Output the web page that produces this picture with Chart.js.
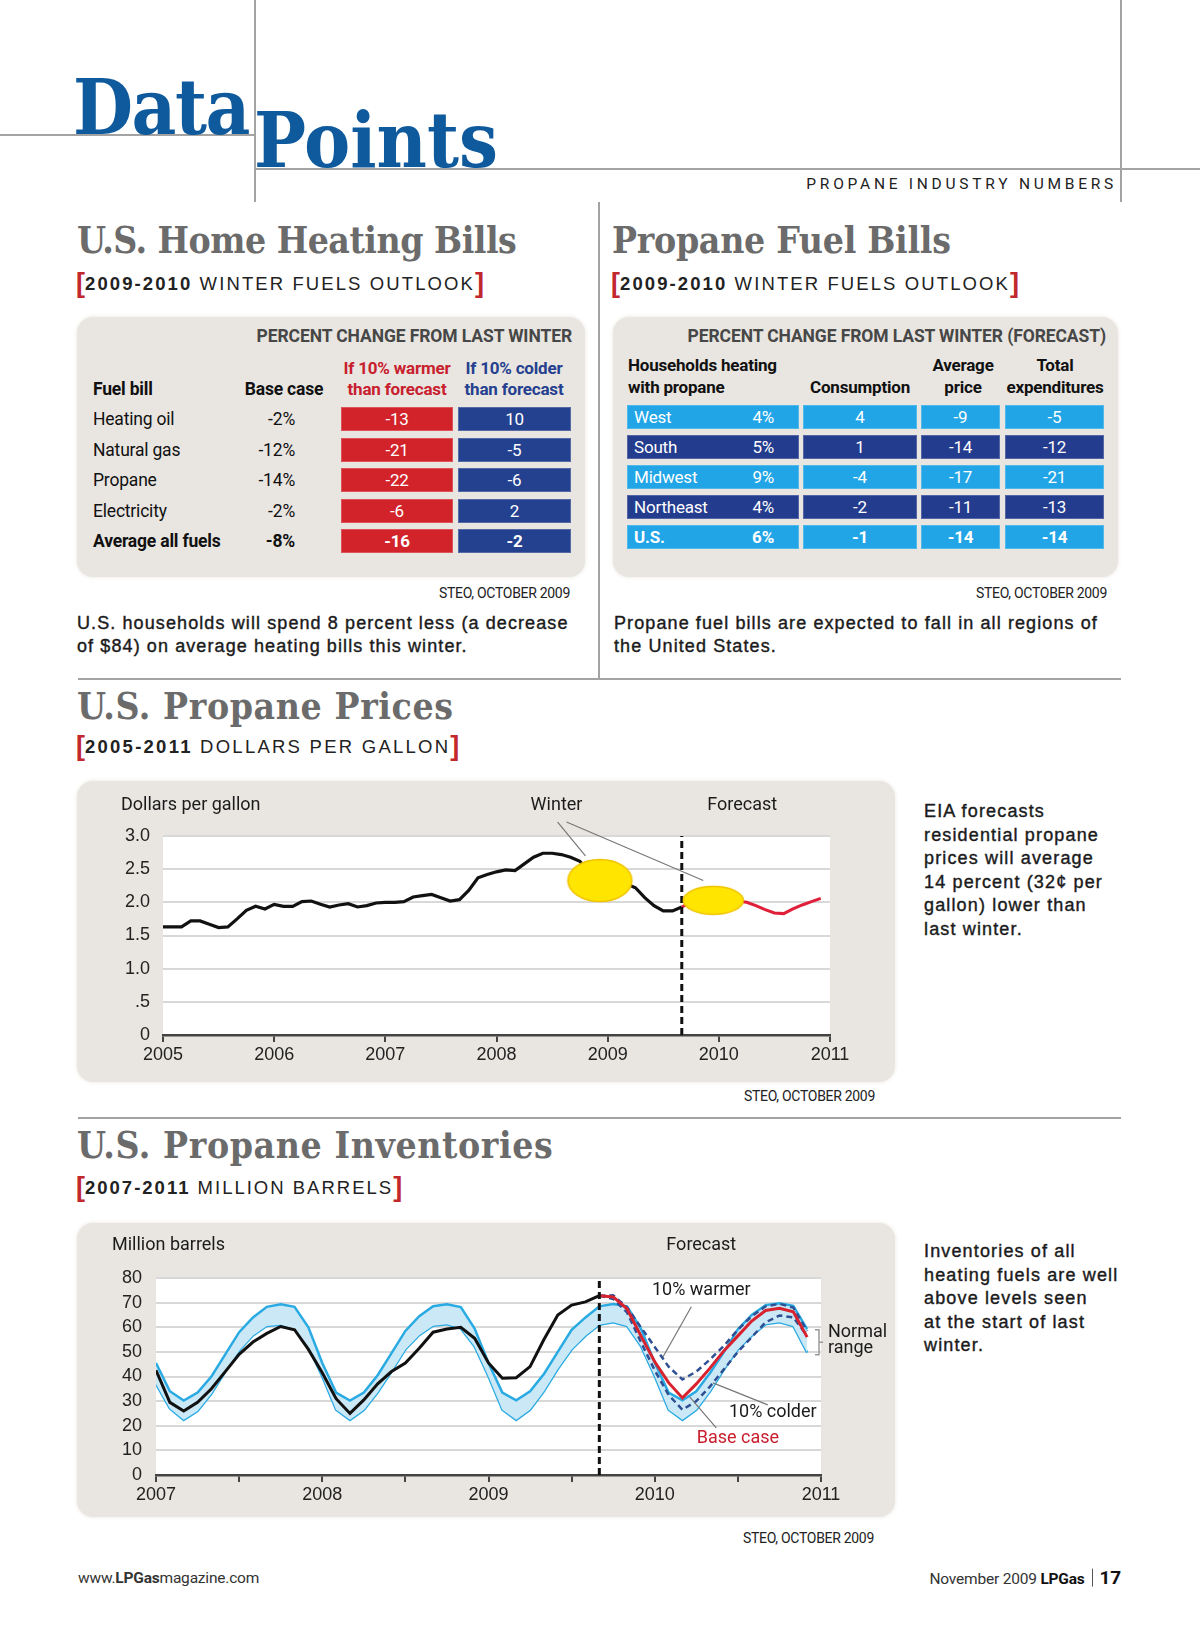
<!DOCTYPE html>
<html>
<head>
<meta charset="utf-8">
<title>Data Points - Propane Industry Numbers</title>
<script src="https://cdn.jsdelivr.net/npm/chart.js@4.4.0/dist/chart.umd.min.js"></script>
<style>
  body { margin: 0; background: #fff; }
  #page { position: relative; width: 1200px; height: 1626px; overflow: hidden; font-family: "Liberation Sans", Arial, sans-serif; color: #1b1b1b; }
  .t { position: absolute; white-space: nowrap; line-height: 1.2; transform: translateY(-50%); }
  .t.c { transform: translate(-50%, -50%); text-align: center; }
  .rule { position: absolute; background: #a3a3a3; }
  .slab { font-family: "DejaVu Serif", serif; font-weight: bold; font-stretch: condensed; }
  .narrow { font-family: Roboto, "Liberation Sans", sans-serif; letter-spacing: -0.2px; }
  .title { font-size: 37px; color: #6b6b6b; letter-spacing: -0.3px; }
  .sub { font-size: 18.5px; letter-spacing: 2.1px; color: #222; }
  .br { color: #c1272d; font-weight: bold; font-size: 27px; letter-spacing: 0; position: relative; top: 2px; }
  .src { font-size: 14px; color: #222; letter-spacing: -0.3px; }
  .note { position: absolute; font-size: 18px; line-height: 22.5px; letter-spacing: 1.1px; -webkit-text-stroke: .4px #1b1b1b; }
  .side { position: absolute; font-size: 18px; line-height: 23.6px; letter-spacing: 1.15px; -webkit-text-stroke: .4px #1b1b1b; }
  .panel { position: absolute; background: #e9e6e1; border-radius: 16px; box-shadow: 0 0 4px #e9e6e1; }
  .head { font-size: 17.5px; font-weight: bold; color: #474747; letter-spacing: -0.1px; }
  .colh { font-size: 17px; font-weight: bold; }
  .tbl { font-size: 17.5px; color: #111; }
  .bold { font-weight: bold; }
  .cell { position: absolute; height: 24px; line-height: 24px; color: #fff; font-size: 17px; box-shadow: inset 0 0 0 1px rgba(255,255,255,.22); }
  .foot { font-size: 15.5px; color: #333; }
  .bar { display: inline-block; width: 1px; height: 18px; background: #555; vertical-align: -3px; margin: 0 7px; }
  canvas { position: absolute; }
</style>
</head>
<body>
<div id="page">
  <!-- header rules -->
  <div class="rule" style="left:254px;top:0;width:2px;height:202px"></div>
  <div class="rule" style="left:1120px;top:0;width:2px;height:202px"></div>
  <div class="rule" style="left:0;top:134px;width:255px;height:2px"></div>
  <div class="rule" style="left:255px;top:168px;width:945px;height:2px"></div>
  <div class="rule" style="left:598px;top:202px;width:2px;height:476px"></div>
  <div class="rule" style="left:78px;top:678px;width:1043px;height:2px"></div>
  <div class="rule" style="left:78px;top:1117px;width:1043px;height:2px"></div>

  <canvas id="priceChart" width="818" height="301" style="left:77px;top:781px"></canvas>
  <canvas id="invChart" width="818" height="294" style="left:77px;top:1223px"></canvas>
</div>

<script>
// ---- data ----
const fuelNames = ['Heating oil', 'Natural gas', 'Propane', 'Electricity', 'Average all fuels'];
const fuelBase = ['-2%', '-12%', '-14%', '-2%', '-8%'];
const fuelWarmer = [-13, -21, -22, -6, -16];
const fuelColder = [10, -5, -6, 2, -2];

const regions = ['West', 'South', 'Midwest', 'Northeast', 'U.S.'];
const regionShare = ['4%', '5%', '9%', '4%', '6%'];
const regionConsumption = [4, 1, -4, -2, -1];
const regionPrice = [-9, -14, -17, -11, -14];
const regionTotal = [-5, -12, -21, -13, -14];

// propane price, $/gal, monthly from Jan 2005
const priceStart = 2005;
const priceActual = [
  1.63, 1.63, 1.63, 1.72, 1.72, 1.67, 1.62, 1.63, 1.75, 1.88, 1.94, 1.90,
  1.97, 1.94, 1.94, 2.01, 2.02, 1.97, 1.93, 1.96, 1.98, 1.93, 1.95, 1.99,
  2.00, 2.00, 2.01, 2.08, 2.10, 2.12, 2.07, 2.02, 2.04, 2.18, 2.37, 2.42,
  2.46, 2.49, 2.48, 2.58, 2.68, 2.74, 2.74, 2.72, 2.68, 2.62, 2.45, 2.35,
  2.33, 2.30, 2.28, 2.22, 2.07, 1.95, 1.87, 1.87, 1.93
];
// forecast, monthly from Sep 2009
const priceForecastStart = 2009 + 8 / 12;
const priceForecast = [1.93, 2.00, 2.03, 2.05, 2.05, 2.04, 2.02, 2.00, 1.95, 1.89, 1.84, 1.83, 1.90, 1.96, 2.01, 2.06];
const priceYears = ['2005', '2006', '2007', '2008', '2009', '2010', '2011'];
const priceTickLabels = ['0', '.5', '1.0', '1.5', '2.0', '2.5', '3.0'];
// winter highlights (year, $/gal)
const winterSpots = [{ x: 2008.93, y: 2.33 }, { x: 2009.95, y: 2.03 }];

// inventories, million barrels, monthly from Jan 2007
const invStart = 2007;
const invActual = [
  42.5, 29.5, 26.0, 29.5, 35.0, 42.0, 49.0, 54.0, 57.5, 60.3, 59.0, 51.0,
  41.5, 31.0, 25.0, 30.5, 37.0, 42.0, 45.5, 51.5, 58.0, 59.3, 60.0, 55.5,
  45.5, 39.3, 39.5, 44.0, 55.0, 65.0, 69.0, 70.3, 72.8
];
const normalHigh = [
  45.5, 34.0, 30.2, 33.5, 40.0, 49.0, 58.0, 64.0, 68.3, 69.3, 68.3, 60.0,
  45.5, 33.5, 30.2, 33.5, 40.5, 49.5, 58.5, 64.5, 68.5, 69.3, 68.2, 59.5,
  45.5, 33.5, 30.3, 34.0, 41.0, 50.0, 59.0, 64.0, 68.5, 69.4, 68.5, 59.5,
  45.6, 33.5, 30.3, 34.0, 41.5, 50.0, 59.2, 65.0, 69.0, 69.7, 68.7, 59.2
];
const normalLow = [
  37.0, 27.0, 22.4, 26.0, 33.0, 42.0, 50.5, 56.7, 60.5, 61.0, 59.3, 52.0,
  40.0, 26.5, 22.4, 26.4, 33.5, 42.0, 51.0, 56.8, 60.6, 61.2, 59.5, 52.2,
  40.0, 26.5, 22.4, 26.5, 34.0, 43.0, 51.0, 56.5, 61.0, 62.0, 60.5, 52.4,
  40.1, 26.5, 22.4, 26.5, 34.0, 42.9, 51.0, 56.5, 61.2, 62.0, 60.5, 49.7
];
// forecasts, monthly from Sep 2009
const invForecastStart = 2009 + 8 / 12;
const invBase = [72.8, 72.3, 67.5, 56.5, 46.0, 37.5, 31.3, 37.0, 43.5, 50.5, 56.5, 62.5, 66.8, 67.7, 66.3, 56.0];
const invWarmer = [72.8, 73.0, 68.0, 60.0, 52.0, 44.0, 38.8, 42.0, 47.0, 52.5, 59.0, 64.5, 68.5, 69.5, 68.0, 58.5];
const invColder = [72.8, 71.5, 66.0, 54.0, 42.5, 32.5, 26.5, 30.0, 36.0, 43.0, 50.0, 56.0, 62.0, 64.8, 64.0, 56.5];
const invYears = ['2007', '2008', '2009', '2010', '2011'];
const invTickLabels = ['0', '10', '20', '30', '40', '50', '60', '70', '80'];

// ---- page text ----
const page = document.getElementById('page');
const NARROW = 'Roboto, "Liberation Sans", sans-serif';
const SANS = '"Liberation Sans", Arial, sans-serif';

function put(html, cls, anchor, x, y, css) {
  const d = document.createElement('div');
  d.className = 't ' + cls + (anchor === 'c' ? ' c' : '');
  d.innerHTML = html;
  d.style.top = y + 'px';
  if (anchor === 'r') d.style.right = (1200 - x) + 'px';
  else d.style.left = x + 'px';
  if (css) d.style.cssText += css;
  page.appendChild(d);
  return d;
}

function block(cls, x, y, w, h, css) {
  const d = document.createElement('div');
  d.className = cls;
  d.style.cssText = `left:${x}px;top:${y}px;width:${w}px;height:${h}px;` + (css || '');
  page.insertBefore(d, page.firstChild);
  return d;
}

function cell(text, x, y, w, color, extra) {
  const d = document.createElement('div');
  d.className = 'cell narrow' + (extra || '');
  d.style.cssText = `left:${x}px;top:${y - 12}px;width:${w}px;background:${color};text-align:center;`;
  d.textContent = text;
  page.appendChild(d);
  return d;
}

// masthead
put('Data', 'slab', 'l', 73, 107, 'font-size:77px;color:#0f5a9c;letter-spacing:-1.5px');
put('Points', 'slab', 'l', 254, 140, 'font-size:77px;color:#0f5a9c;letter-spacing:0px');
put('PROPANE INDUSTRY NUMBERS', 'narrow', 'r', 1117, 184, 'font-size:15.5px;letter-spacing:3.75px;color:#222');

// section titles
put('U.S. Home Heating Bills', 'slab title', 'l', 77, 240, 'letter-spacing:-0.5px');
put('Propane Fuel Bills', 'slab title', 'l', 612, 240);
put('<span class="br">[</span><b>2009-2010</b> WINTER FUELS OUTLOOK<span class="br">]</span>', 'sub', 'l', 76, 281);
put('<span class="br">[</span><b>2009-2010</b> WINTER FUELS OUTLOOK<span class="br">]</span>', 'sub', 'l', 611, 281);
put('U.S. Propane Prices', 'slab title', 'l', 77, 706, 'letter-spacing:0.6px');
put('<span class="br">[</span><b>2005-2011</b> DOLLARS PER GALLON<span class="br">]</span>', 'sub', 'l', 76, 744, 'letter-spacing:2.25px');
put('U.S. Propane Inventories', 'slab title', 'l', 77, 1145, 'letter-spacing:0.6px');
put('<span class="br">[</span><b>2007-2011</b> MILLION BARRELS<span class="br">]</span>', 'sub', 'l', 76, 1185, 'letter-spacing:2.0px');

// panels
block('panel', 77, 317, 508, 260);
block('panel', 613, 317, 505, 260);
block('panel', 77, 781, 818, 301);
block('panel', 77, 1223, 818, 294);

// left table
put('PERCENT CHANGE FROM LAST WINTER', 'narrow head', 'r', 572, 336);
put('If 10% warmer<br>than forecast', 'narrow colh', 'c', 397, 379, 'color:#c8202e;line-height:21px');
put('If 10% colder<br>than forecast', 'narrow colh', 'c', 514, 379, 'color:#25408f;line-height:21px');
put('Fuel bill', 'narrow colh', 'l', 93, 389, 'color:#111;font-size:17.5px');
put('Base case', 'narrow colh', 'c', 284, 389, 'color:#111;font-size:17.5px');
const leftRowY = [419, 450, 480, 511, 541];
fuelNames.forEach((name, i) => {
  const b = i === fuelNames.length - 1 ? ' bold' : '';
  put(name, 'narrow tbl' + b, 'l', 93, leftRowY[i]);
  put(fuelBase[i], 'narrow tbl' + b, 'r', 295, leftRowY[i]);
  cell(fuelWarmer[i], 341, leftRowY[i], 112, '#d2232a', b);
  cell(fuelColder[i], 458, leftRowY[i], 113, '#24418f', b);
});

// right table
put('PERCENT CHANGE FROM LAST WINTER (FORECAST)', 'narrow head', 'r', 1106, 336);
put('Households heating<br>with propane', 'narrow colh', 'l', 628, 376, 'color:#111;line-height:22px');
put('Consumption', 'narrow colh', 'c', 860, 387, 'color:#111');
put('Average<br>price', 'narrow colh', 'c', 963, 376, 'color:#111;line-height:22px');
put('Total<br>expenditures', 'narrow colh', 'c', 1055, 376, 'color:#111;line-height:22px');
const rightRowY = [417, 447, 477, 507, 537];
regions.forEach((name, i) => {
  const b = i === regions.length - 1 ? ' bold' : '';
  const color = i % 2 ? '#243c8e' : '#21a5e6';
  const c = cell('', 627, rightRowY[i], 172, color, b);
  c.style.textAlign = 'left';
  c.innerHTML = `<span style="position:absolute;left:7px">${name}</span><span style="position:absolute;right:25px">${regionShare[i]}</span>`;
  cell(regionConsumption[i], 803, rightRowY[i], 114, color, b);
  cell(regionPrice[i], 921, rightRowY[i], 79, color, b);
  cell(regionTotal[i], 1005, rightRowY[i], 99, color, b);
});

// sources and notes
put('STEO, OCTOBER 2009', 'narrow src', 'r', 570, 593);
put('STEO, OCTOBER 2009', 'narrow src', 'r', 1107, 593);
put('STEO, OCTOBER 2009', 'narrow src', 'r', 875, 1096);
put('STEO, OCTOBER 2009', 'narrow src', 'r', 874, 1538);

block('note', 77, 612, 520, 46).innerHTML = 'U.S. households will spend 8 percent less (a decrease<br>of $84) on average heating bills this winter.';
block('note', 614, 612, 520, 46).innerHTML = 'Propane fuel bills are expected to fall in all regions of<br>the United States.';
block('side', 924, 800, 276, 150).innerHTML = 'EIA forecasts<br>residential propane<br>prices will average<br>14 percent (32&cent; per<br>gallon) lower than<br>last winter.';
block('side', 924, 1240, 276, 130).innerHTML = 'Inventories of all<br>heating fuels are well<br>above levels seen<br>at the start of last<br>winter.';

put('www.<b>LPGas</b>magazine.com', 'narrow foot', 'l', 78, 1578);
put('November 2009 <b style="color:#111">LPGas</b><span class="bar"></span><b style="font-size:19px;color:#111">17</b>', 'narrow foot', 'r', 1121, 1578);

// ---- charts ----
Chart.defaults.font.family = SANS;
Chart.defaults.color = '#222';
Chart.defaults.animation = false;

function monthly(start, values) {
  return values.map((v, i) => ({ x: start + i / 12, y: v }));
}

function makeEllipse(w, h) {
  const c = document.createElement('canvas');
  c.width = w; c.height = h;
  const g = c.getContext('2d');
  g.beginPath();
  g.ellipse(w / 2, h / 2, w / 2 - 1.5, h / 2 - 1.5, 0, 0, Math.PI * 2);
  g.fillStyle = '#ffe500';
  g.fill();
  g.strokeStyle = '#f1c400';
  g.lineWidth = 1.5;
  g.stroke();
  return c;
}

const plotBg = {
  id: 'plotBg',
  beforeDraw(chart) {
    const a = chart.chartArea, ctx = chart.ctx;
    ctx.save();
    ctx.fillStyle = '#fff';
    ctx.fillRect(a.left, a.top, a.right - a.left, a.bottom - a.top);
    ctx.restore();
  }
};

function line(ctx, x, y, x1, y1, x2, y2) {
  ctx.beginPath();
  ctx.moveTo(x.getPixelForValue(x1), y.getPixelForValue(y1));
  ctx.lineTo(x.getPixelForValue(x2), y.getPixelForValue(y2));
  ctx.stroke();
}

const priceNotes = {
  id: 'priceNotes',
  afterDatasetsDraw(chart) {
    const { ctx, scales: { x, y } } = chart;
    ctx.save();
    ctx.font = '18px ' + NARROW;
    ctx.fillStyle = '#1b1b1b';
    ctx.textBaseline = 'middle';
    ctx.textAlign = 'left';
    ctx.fillText('Dollars per gallon', 44, 24);
    ctx.textAlign = 'center';
    ctx.fillText('Winter', x.getPixelForValue(2008.54), 24);
    ctx.fillText('Forecast', x.getPixelForValue(2010.21), 24);
    ctx.strokeStyle = '#777';
    ctx.lineWidth = 1.2;
    line(ctx, x, y, 2008.55, 3.21, 2008.80, 2.70);
    line(ctx, x, y, 2008.63, 3.21, 2009.86, 2.33);
    ctx.restore();
  }
};

new Chart(document.getElementById('priceChart'), {
  type: 'line',
  data: {
    datasets: [
      {
        data: winterSpots,
        showLine: false,
        pointStyle: [makeEllipse(67, 45), makeEllipse(63, 31)],
        pointRadius: 5
      },
      {
        data: [{ x: priceForecastStart, y: 0 }, { x: priceForecastStart, y: 3 }],
        borderColor: '#111',
        borderWidth: 3,
        borderDash: [7, 4],
        pointRadius: 0
      },
      {
        data: monthly(priceForecastStart, priceForecast),
        borderColor: '#e0203a',
        borderWidth: 3,
        pointRadius: 0
      },
      {
        data: monthly(priceStart, priceActual),
        borderColor: '#111',
        borderWidth: 3.2,
        pointRadius: 0
      }
    ]
  },
  options: {
    responsive: false,
    events: [],
    layout: { padding: { left: 0, right: 65, top: 55, bottom: 17 } },
    plugins: { legend: { display: false }, tooltip: { enabled: false } },
    scales: {
      x: {
        type: 'linear', min: 2005, max: 2011,
        afterFit: s => { s.height = 30; },
        ticks: { stepSize: 1, padding: 2, maxRotation: 0, autoSkip: false, font: { size: 18 },
          callback: (v, i) => priceYears[i] },
        grid: { drawOnChartArea: false, color: '#444', lineWidth: 2, tickLength: 7 },
        border: { display: true, color: '#444', width: 2.5 }
      },
      y: {
        min: 0, max: 3,
        afterFit: s => { s.width = 86; },
        ticks: { stepSize: 0.5, padding: 13, font: { size: 18 },
          callback: (v, i) => priceTickLabels[i] },
        grid: { color: '#d8d8d8', lineWidth: 2, drawTicks: false },
        border: { display: false }
      }
    }
  },
  plugins: [plotBg, priceNotes]
});

const invNotes = {
  id: 'invNotes',
  afterDatasetsDraw(chart) {
    const { ctx, scales: { x, y } } = chart;
    ctx.save();
    ctx.font = '18px ' + NARROW;
    ctx.fillStyle = '#1b1b1b';
    ctx.textBaseline = 'middle';
    ctx.textAlign = 'left';
    ctx.fillText('Million barrels', 35, 22);
    ctx.textAlign = 'center';
    ctx.fillText('Forecast', x.getPixelForValue(2010.28), 22);
    ctx.fillText('10% warmer', x.getPixelForValue(2010.28), y.getPixelForValue(75.1));
    ctx.fillText('10% colder', x.getPixelForValue(2010.71), y.getPixelForValue(25.2));
    ctx.fillStyle = '#c8202e';
    ctx.fillText('Base case', x.getPixelForValue(2010.50), y.getPixelForValue(15.0));
    ctx.strokeStyle = '#777';
    ctx.lineWidth = 1.2;
    line(ctx, x, y, 2010.22, 68.3, 2010.05, 48.0);
    line(ctx, x, y, 2010.68, 28.5, 2010.35, 37.4);
    line(ctx, x, y, 2010.37, 19.1, 2010.21, 31.7);
    // normal range brace
    const bx = x.getPixelForValue(2011) - 2, top = y.getPixelForValue(59), bot = y.getPixelForValue(48.8);
    const mid = (top + bot) / 2;
    ctx.strokeStyle = '#999';
    ctx.lineWidth = 1.5;
    ctx.beginPath();
    ctx.moveTo(bx - 4, top); ctx.lineTo(bx, top); ctx.lineTo(bx, bot); ctx.lineTo(bx - 4, bot);
    ctx.moveTo(bx, mid); ctx.lineTo(bx + 4, mid);
    ctx.stroke();
    ctx.fillStyle = '#1b1b1b';
    ctx.textAlign = 'left';
    ctx.fillText('Normal', bx + 9, y.getPixelForValue(57.7));
    ctx.fillText('range', bx + 9, y.getPixelForValue(51.2));
    ctx.restore();
  }
};

new Chart(document.getElementById('invChart'), {
  type: 'line',
  data: {
    datasets: [
      {
        data: [{ x: invForecastStart, y: 0 }, { x: invForecastStart, y: 80 }],
        borderColor: '#111', borderWidth: 3, borderDash: [7, 4], pointRadius: 0
      },
      {
        data: monthly(invForecastStart, invBase),
        borderColor: '#d8232f', borderWidth: 3, pointRadius: 0
      },
      {
        data: monthly(invForecastStart, invWarmer),
        borderColor: '#2f4f93', borderWidth: 2.5, borderDash: [6, 4], pointRadius: 0
      },
      {
        data: monthly(invForecastStart, invColder),
        borderColor: '#2f4f93', borderWidth: 2.5, borderDash: [6, 4], pointRadius: 0
      },
      {
        data: monthly(invStart, invActual),
        borderColor: '#111', borderWidth: 3, pointRadius: 0
      },
      {
        data: monthly(invStart, normalHigh),
        borderColor: '#2aaae2', borderWidth: 2.5, pointRadius: 0,
        fill: '+1', backgroundColor: '#cbe8f6'
      },
      {
        data: monthly(invStart, normalLow),
        borderColor: '#2aaae2', borderWidth: 2.5, pointRadius: 0
      }
    ]
  },
  options: {
    responsive: false,
    events: [],
    layout: { padding: { left: 0, right: 74, top: 55, bottom: 12 } },
    plugins: { legend: { display: false }, tooltip: { enabled: false } },
    scales: {
      x: {
        type: 'linear', min: 2007, max: 2011,
        afterFit: s => { s.height = 30; },
        ticks: { stepSize: 0.5, padding: 2, maxRotation: 0, autoSkip: false, font: { size: 18 },
          callback: (v, i) => (i % 2 ? '' : invYears[i / 2]) },
        grid: { drawOnChartArea: false, color: '#444', lineWidth: 2, tickLength: 7 },
        border: { display: true, color: '#444', width: 2.5 }
      },
      y: {
        min: 0, max: 80,
        afterFit: s => { s.width = 79; },
        ticks: { stepSize: 10, padding: 14, font: { size: 18 },
          callback: (v, i) => invTickLabels[i] },
        grid: { color: '#d8d8d8', lineWidth: 2, drawTicks: false },
        border: { display: false }
      }
    }
  },
  plugins: [plotBg, invNotes]
});
</script>
</body>
</html>
